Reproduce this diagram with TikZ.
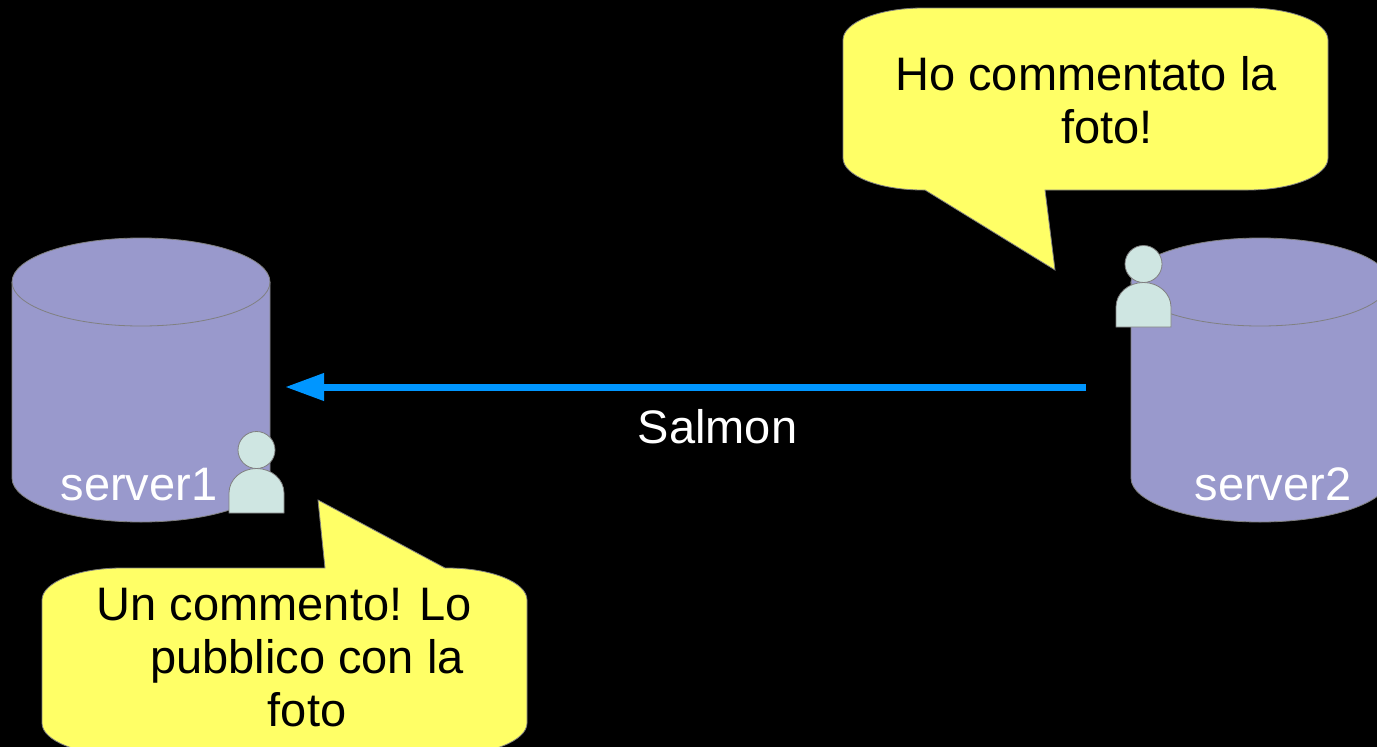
\documentclass[tikz,border=0pt]{standalone}
\usepackage{fontspec}
\setmainfont{Liberation Sans}
\usetikzlibrary{calc,arrows.meta,positioning}

\definecolor{dbfill}{RGB}{153,153,204}
\definecolor{userfill}{RGB}{207,230,226}
\definecolor{bubble}{RGB}{255,255,102}
\definecolor{salmonblue}{RGB}{0,150,255}

\begin{document}
\begin{tikzpicture}[x=1pt,y=-1pt,
    big/.style={font=\fontsize{47}{53}\selectfont},
    edge/.style={draw=gray,line width=0.8pt}]
  \useasboundingbox (0,0) rectangle (1377,747);
  \fill[black] (0,0) rectangle (1377,747);

    \path (141,282)       node[coordinate] (s1) {}
          (1260,282)      node[coordinate] (s2) {}
          (s1) ++(144,105) node[coordinate] (s1e) {}
          (s2) ++(-174,105) node[coordinate] (s2w) {};

    % the two servers
    \foreach \srv in {s1,s2}
    {
      \path[edge,fill=dbfill] ($(\srv)+(-129,0)$) -- ++(0,196)
        arc[start angle=180,end angle=0,x radius=129,y radius=44]
        -- ++(0,-196)
        arc[start angle=0,end angle=-180,x radius=129,y radius=44] -- cycle;
      \path[edge] ($(\srv)+(-129,0)$)
        arc[start angle=180,end angle=0,x radius=129,y radius=44];
    }

    \node[big,white,anchor=base] (l1) at (139,500) {server1};
    \node[big,white,anchor=base] (l2) at (1273,500) {server2};

    % users
    \path (256.5,450)  node[coordinate] (u1) {}
          (1143.5,264) node[coordinate] (u2) {};
    \foreach \usr in {u1,u2}
    {
      \path[edge,fill=userfill] ($(\usr)+(-27.5,63)$) -- ++(0,-20)
        arc[start angle=180,end angle=360,x radius=27.5,y radius=24.5]
        -- ++(0,20) -- cycle;
      \path[edge,fill=userfill] (\usr) circle[radius=18.5];
    }

    % Salmon
    \draw[salmonblue,line width=7pt,-{Triangle[length=39pt,width=26pt]}]
      (s2w) -- node[pos=0.46,anchor=base,yshift=-56pt,big,white] (sal) {Salmon} (s1e);

    % speech bubbles
    \path[edge,fill=bubble] (843,40)
      arc[start angle=180,end angle=270,x radius=80,y radius=32] -- (1248,8)
      arc[start angle=270,end angle=360,x radius=80,y radius=32] -- (1328,158)
      arc[start angle=0,end angle=90,x radius=80,y radius=32] -- (1045,190)
      -- (1055,270) node[coordinate] (t2) {} -- (925,190) -- (923,190)
      arc[start angle=90,end angle=180,x radius=80,y radius=32] -- cycle;
    \node[big,align=center,anchor=north,inner sep=0pt] (b2) at (1107,56)
      {Ho commentato la\hspace*{42pt}\\foto!};

    \path[edge,fill=bubble] (42,600)
      arc[start angle=180,end angle=270,x radius=80,y radius=32] -- (325,568)
      -- (318,500) node[coordinate] (t1) {} -- (445,568) -- (447,568)
      arc[start angle=270,end angle=360,x radius=80,y radius=32] -- (527,723)
      arc[start angle=0,end angle=90,x radius=80,y radius=32] -- (122,755)
      arc[start angle=90,end angle=180,x radius=80,y radius=32] -- cycle;
    \node[big,align=center,anchor=north,inner sep=0pt] (b1) at (307,588)
      {Un commento! Lo\hspace*{45pt}\\pubblico con la\\foto};

\end{tikzpicture}
\end{document}
